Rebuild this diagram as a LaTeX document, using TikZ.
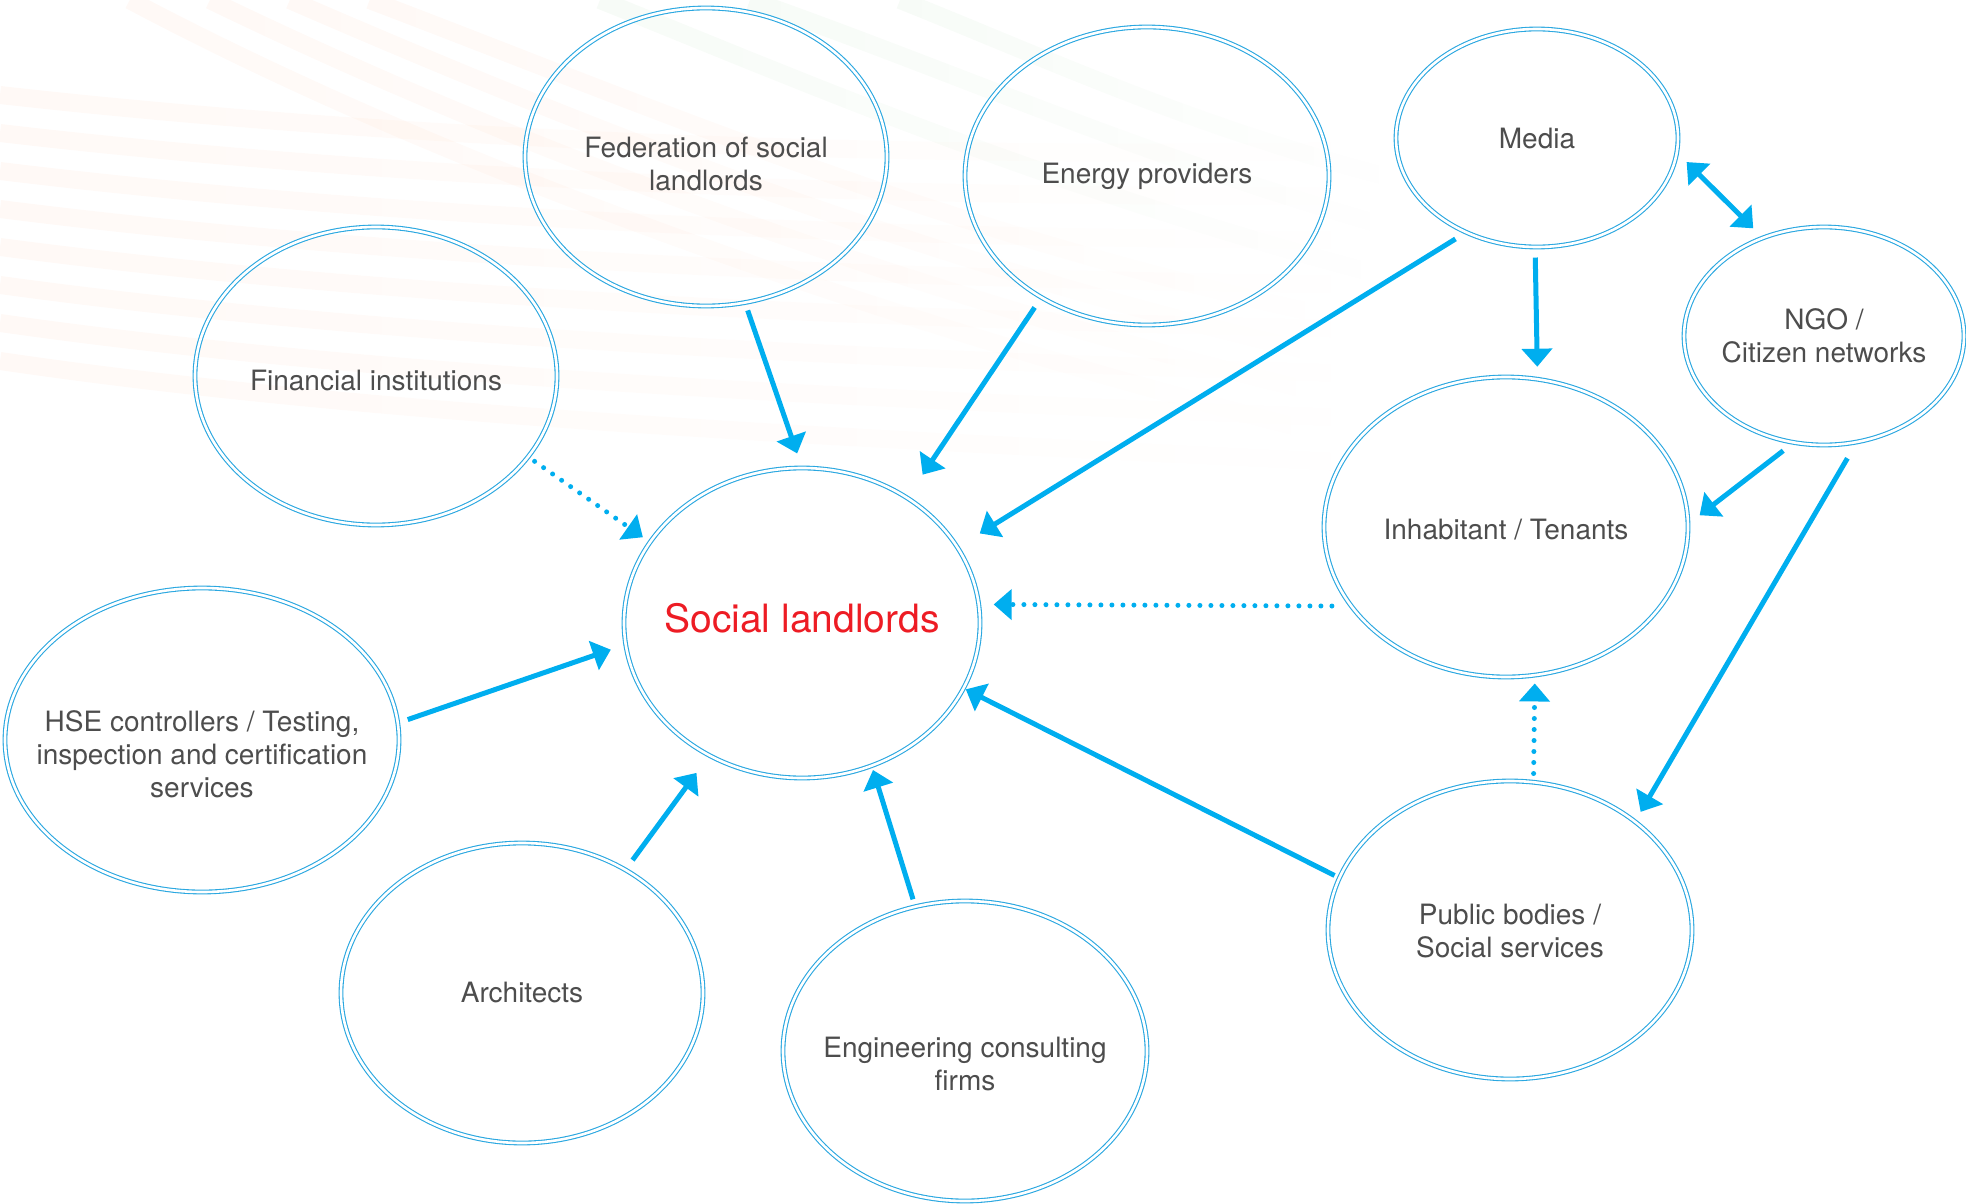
\documentclass[tikz,border=0pt]{standalone}
\usepackage{fontspec}
\setmainfont{TeX Gyre Heros}
\usetikzlibrary{shapes.geometric}
\usetikzlibrary{arrows.meta}
\usetikzlibrary{fadings}
\definecolor{linkblue}{HTML}{00AEEF}
\definecolor{ringblue}{HTML}{2AA7E0}
\definecolor{labelgrey}{HTML}{4D4D4D}
\definecolor{keyred}{HTML}{ED1C24}
\newcommand{\rolebox}[2][0pt]{\hbox to 0pt{\hss\raisebox{-#1}[\height][\depth]{\begin{tabular}{@{}c@{}}#2\end{tabular}}\hss}}

\begin{document}
\begin{tikzpicture}[x=0.5pt,y=-0.5pt,
  actor/.style={ellipse,draw=ringblue,line width=0.55pt,double=white,double distance=1.3pt,inner sep=0pt,text=labelgrey,font=\fontsize{14}{16.5}\selectfont},
  link/.style={draw=linkblue,line width=2.5pt,-{Triangle[length=9pt,width=15pt]}},
  twoway/.style={link,{Triangle[length=9pt,width=15pt]}-{Triangle[length=9pt,width=15pt]}},
  hint/.style={link,line cap=round,dash pattern=on 0pt off 5.5pt},
  swirl/.style={draw=orange!70!red,line width=9pt,opacity=0.035,path fading=east},
  leaf/.style={draw=green!50!black,line width=9pt,opacity=0.03,path fading=east}]
\useasboundingbox (0,0) rectangle (1966,1204);

% faint background swoosh
\draw[swirl] (0,95) .. controls (400,140) and (900,160) .. (1400,150);
\draw[swirl] (0,133) .. controls (400,180) and (900,200) .. (1400,195);
\draw[swirl] (0,171) .. controls (400,220) and (900,240) .. (1400,240);
\draw[swirl] (0,209) .. controls (400,260) and (900,280) .. (1400,285);
\draw[swirl] (0,247) .. controls (400,300) and (900,320) .. (1400,330);
\draw[swirl] (0,285) .. controls (400,340) and (900,360) .. (1400,375);
\draw[swirl] (0,323) .. controls (400,380) and (900,400) .. (1400,420);
\draw[swirl] (0,361) .. controls (400,420) and (900,440) .. (1400,465);
\draw[swirl] (130,0) .. controls (450,170) and (900,330) .. (1350,440);
\draw[swirl] (210,0) .. controls (520,150) and (920,300) .. (1350,400);
\draw[swirl] (290,0) .. controls (590,130) and (940,270) .. (1350,360);
\draw[swirl] (370,0) .. controls (660,110) and (960,240) .. (1350,320);
\draw[leaf] (600,0) .. controls (800,80) and (1050,190) .. (1400,280);
\draw[leaf] (750,0) .. controls (950,70) and (1150,160) .. (1400,230);
\draw[leaf] (900,0) .. controls (1050,60) and (1200,130) .. (1400,180);

\node[actor,minimum width=178pt,minimum height=155pt,text=keyred,font=\fontsize{19.5}{22}\selectfont] (soc) at (802,623) {\rolebox[0.5pt]{Social landlords}};
\node[actor,minimum width=181pt,minimum height=149pt] (fed) at (706,157) {\rolebox[5pt]{Federation of social\\landlords}};
\node[actor,minimum width=182pt,minimum height=149pt] (ene) at (1147,176) {\rolebox[0.5pt]{Energy providers}};
\node[actor,minimum width=141pt,minimum height=109pt] (med) at (1537,138) {\rolebox[2pt]{Media}};
\node[actor,minimum width=140pt,minimum height=109pt] (ngo) at (1824,336) {\rolebox[1.5pt]{NGO /\\Citizen networks}};
\node[actor,minimum width=181pt,minimum height=149pt] (fin) at (376,376) {\rolebox[4pt]{Financial institutions}};
\node[actor,minimum width=182pt,minimum height=150pt] (inh) at (1506,527) {\rolebox[3pt]{Inhabitant / Tenants}};
\node[actor,minimum width=197pt,minimum height=152pt] (hse) at (202,740) {\rolebox[9pt]{HSE controllers / Testing,\\inspection and certification\\services}};
\node[actor,minimum width=181pt,minimum height=150pt] (arch) at (522,993) {\rolebox[1.5pt]{Architects}};
\node[actor,minimum width=182pt,minimum height=150pt] (eng) at (965,1051) {\rolebox[8pt]{Engineering consulting\\firms}};
\node[actor,minimum width=182pt,minimum height=149pt] (pub) at (1510,930) {\rolebox[2pt]{Public bodies /\\Social services}};

\draw[link,shorten <=3.9pt,shorten >=7.4pt] (fed.-75.2) -- (soc.90.4);
\draw[link,shorten <=5.8pt,shorten >=13.7pt] (ene.-131) -- (soc.50.1);
\draw[link,shorten <=6pt,shorten >=12.9pt] (med.-127) -- (soc.26.8);
\draw[link,shorten <=5pt,shorten >=6pt] (med.-91.05) -- (inh.78.9);
\draw[twoway,shorten <=6.6pt,shorten >=6.5pt] (med.-6.4) -- (ngo.122.2);
\draw[link,shorten <=6.4pt,shorten >=7pt] (ngo.-106.2) -- (inh.1.8);
\draw[link,shorten <=9.1pt,shorten >=5.4pt] (ngo.-73.6) -- (pub.41.1);
\draw[hint,shorten <=9.4pt,shorten >=7.2pt] (inh.-153.8) -- (soc.6.1);
\draw[hint,shorten <=4.1pt,shorten >=3.9pt] (pub.81.2) -- (inh.-79.7);
\draw[link,shorten <=2.5pt,shorten >=1pt] (pub.163.8) -- (soc.-22.3);
\draw[link,shorten <=3.6pt,shorten >=2pt] (eng.109.4) -- (soc.-64.7);
\draw[link,shorten <=5.8pt,shorten >=10.6pt] (arch.50.5) -- (soc.-125.3);
\draw[link,shorten <=5pt,shorten >=7.6pt] (hse.5.5) -- (soc.-173.5);
\draw[hint,shorten <=3.7pt,shorten >=4.1pt] (fin.-28) -- (soc.152.2);

\end{tikzpicture}
\end{document}
